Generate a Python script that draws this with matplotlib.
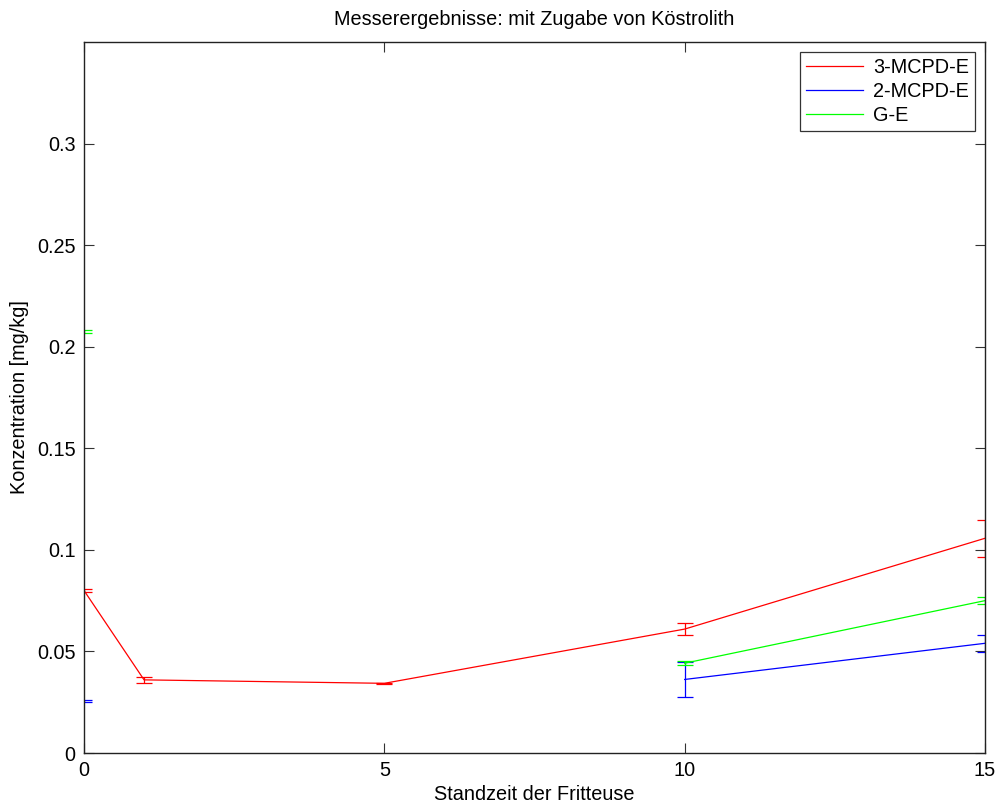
import numpy as np
import matplotlib
matplotlib.use("Agg")
import matplotlib.pyplot as plt
from matplotlib.lines import Line2D

plt.rcParams['font.family'] = ['Liberation Sans', 'DejaVu Sans']

x = [0, 1, 5, 10, 15]
mcpd3 = [0.0800, 0.0360, 0.0343, 0.0610, 0.1057]
mcpd3_err = [0.0008, 0.0015, 0.0003, 0.0031, 0.0090]
mcpd2 = [0.0258, np.nan, np.nan, 0.0362, 0.0540]
mcpd2_err = [0.0005, np.nan, np.nan, 0.0085, 0.0043]
ge = [0.2073, np.nan, np.nan, 0.0442, 0.0750]
ge_err = [0.0007, np.nan, np.nan, 0.0011, 0.0017]

series = [("3-MCPD-E", mcpd3, mcpd3_err, "#ff0000"),
          ("2-MCPD-E", mcpd2, mcpd2_err, "#0000ff"),
          ("G-E", ge, ge_err, "#00ff00")]

FS = 14.3

fig = plt.figure(figsize=(9.98, 8.05), dpi=100)
ax = fig.add_axes([84/998, 52/805, (985-84)/998, (753-42)/805])

for name, y, err, c in series:
    ax.errorbar(x, y, yerr=err, color=c, lw=0.9, elinewidth=0.9,
                capsize=6, capthick=0.9, label=name)

ax.set_xlim(0, 15)
ax.set_ylim(0, 0.35)
ax.set_xticks([0, 5, 10, 15])
ax.set_yticks([0, 0.05, 0.1, 0.15, 0.2, 0.25, 0.3])
ax.set_yticklabels(["0", "0.05", "0.1", "0.15", "0.2", "0.25", "0.3"])
ax.tick_params(direction='in', top=True, right=True, length=7, width=0.8,
               labelsize=FS, pad=6, color='#333333')
for s in ax.spines.values():
    s.set_linewidth(1.0)
    s.set_color('#222222')

ax.set_title("Messerergebnisse: mit Zugabe von Köstrolith", fontsize=FS, pad=12)
ax.set_xlabel("Standzeit der Fritteuse", fontsize=FS, labelpad=3)
ax.set_ylabel("Konzentration [mg/kg]", fontsize=FS, labelpad=6)

labels = [s[0] for s in series]
h2 = [Line2D([], [], color=c, lw=0.9) for _, _, _, c in series]
leg = ax.legend(h2, labels, loc='upper right', fontsize=FS, frameon=True,
                fancybox=False, edgecolor='black', borderaxespad=0.5,
                handlelength=2.9, handletextpad=0.5, labelspacing=0.25,
                borderpad=0.3, handleheight=0.7)
leg.get_frame().set_linewidth(0.9)

fig.savefig("out.png", dpi=100)
